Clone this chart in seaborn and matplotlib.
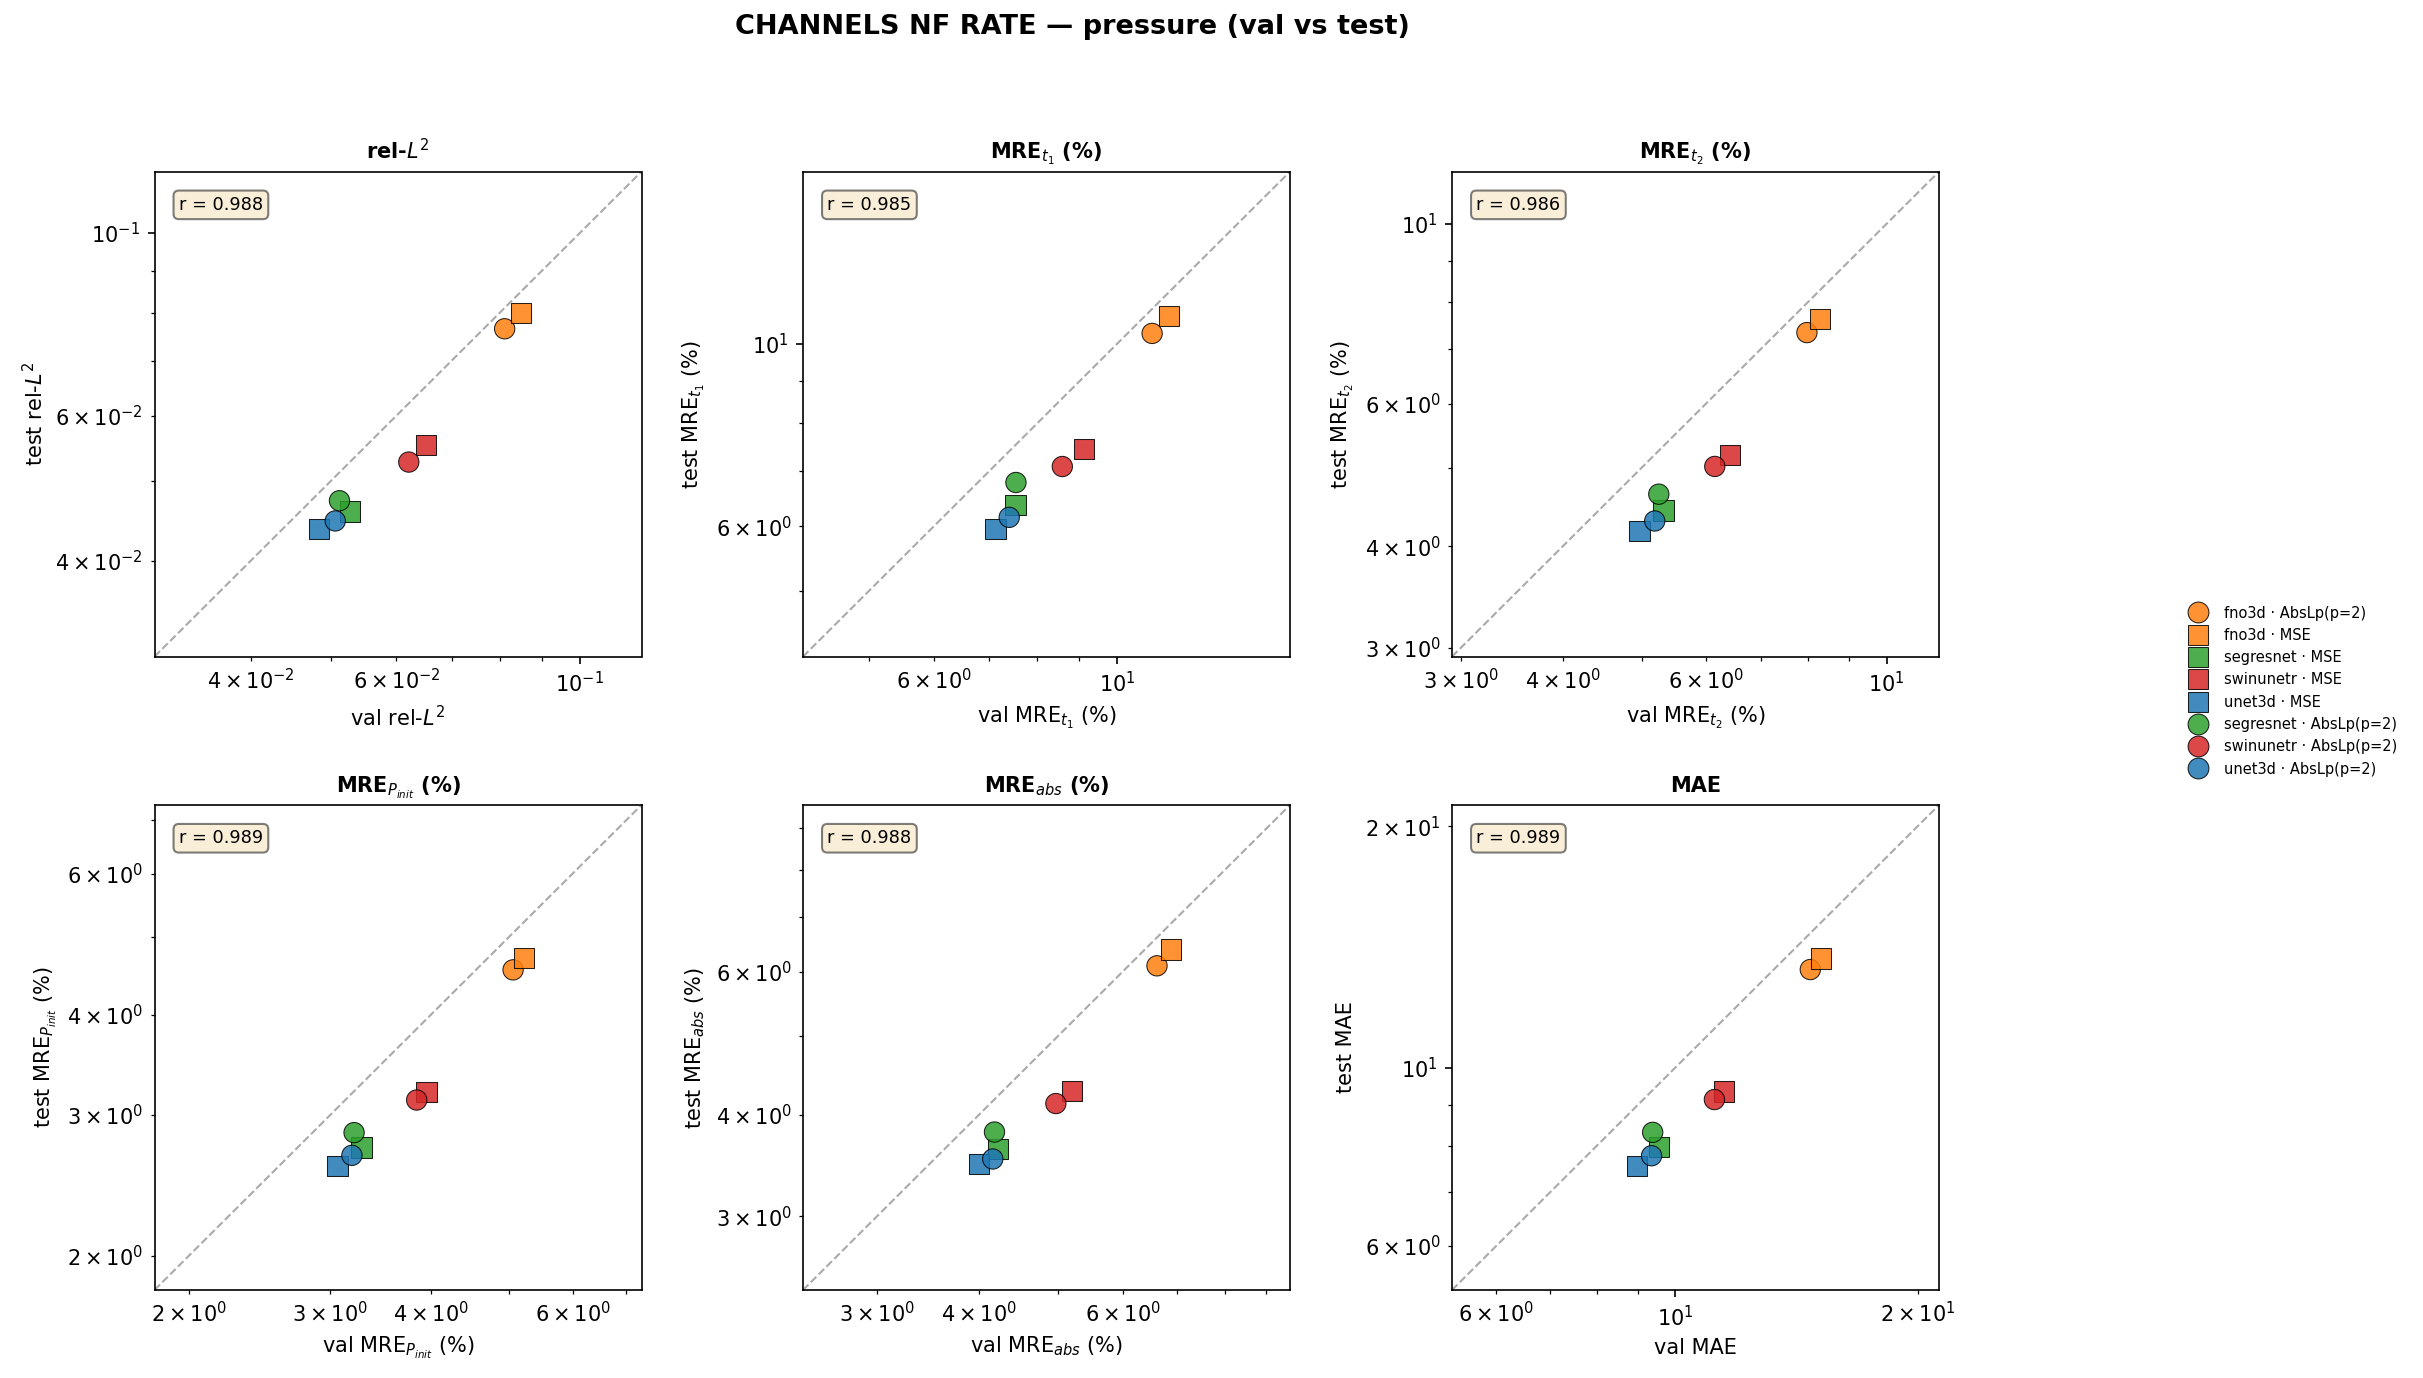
import numpy as np
import pandas as pd
import matplotlib
matplotlib.use("Agg")
import matplotlib.pyplot as plt
from matplotlib.lines import Line2D
import seaborn as sns

# ---------------- data ----------------
models = ["fno3d", "fno3d", "segresnet", "swinunetr", "unet3d", "segresnet", "swinunetr", "unet3d"]
losses = ["AbsLp(p=2)", "MSE", "MSE", "MSE", "MSE", "AbsLp(p=2)", "AbsLp(p=2)", "AbsLp(p=2)"]

rel_l2_val = [0.0811, 0.0848, 0.0527, 0.0652, 0.0484, 0.0512, 0.0621, 0.0506]
rel_l2_test = [0.0765, 0.0800, 0.0459, 0.0553, 0.0437, 0.0473, 0.0527, 0.0447]
mre_t1_val = [11.02, 11.56, 7.53, 9.11, 7.12, 7.54, 8.58, 7.40]
mre_t1_test = [10.29, 10.81, 6.36, 7.45, 5.95, 6.78, 7.09, 6.15]
mre_t2_val = [7.98, 8.28, 5.32, 6.42, 4.97, 5.25, 6.15, 5.19]
mre_t2_test = [7.34, 7.63, 4.43, 5.19, 4.18, 4.64, 5.02, 4.30]
mre_pinit_val = [5.06, 5.22, 3.28, 3.95, 3.06, 3.21, 3.84, 3.19]
mre_pinit_test = [4.55, 4.71, 2.73, 3.20, 2.59, 2.85, 3.13, 2.67]
mre_abs_val = [6.61, 6.87, 4.22, 5.20, 4.00, 4.18, 4.97, 4.16]
mre_abs_test = [6.10, 6.39, 3.63, 4.28, 3.48, 3.81, 4.13, 3.53]
mae_val = [14.72, 15.19, 9.56, 11.51, 8.96, 9.38, 11.19, 9.35]
mae_test = [13.26, 13.69, 7.96, 9.34, 7.55, 8.31, 9.13, 7.77]

r_values = [0.988, 0.985, 0.986, 0.989, 0.988, 0.989]

titles = [r"rel-$L^2$", r"MRE$_{t_1}$ (%)", r"MRE$_{t_2}$ (%)",
          r"MRE$_{P_{init}}$ (%)", r"MRE$_{abs}$ (%)", "MAE"]
val_series = [rel_l2_val, mre_t1_val, mre_t2_val, mre_pinit_val, mre_abs_val, mae_val]
test_series = [rel_l2_test, mre_t1_test, mre_t2_test, mre_pinit_test, mre_abs_test, mae_test]

model_colors = {"fno3d": "#ff7f0e", "segresnet": "#2ca02c",
                "swinunetr": "#d62728", "unet3d": "#1f77b4"}
loss_markers = {"AbsLp(p=2)": "o", "MSE": "s"}

labels = [f"{m} · {l}" for m, l in zip(models, losses)]
palette = {lab: model_colors[m] for lab, m in zip(labels, models)}
markers = {lab: loss_markers[l] for lab, l in zip(labels, losses)}

# ---------------- figure ----------------
W, H = 2423, 1378
dpi = 150
fig = plt.figure(figsize=(W / dpi, H / dpi), dpi=dpi)

ax_w, ax_h = 487 / W, 485 / H
lefts = [154.5 / W, 803 / W, 1452 / W]
bottoms = [1 - 656.6 / H, 1 - 1290 / H]

for i in range(6):
    row, col = divmod(i, 3)
    ax = fig.add_axes([lefts[col], bottoms[row], ax_w, ax_h])
    df = pd.DataFrame({"val": val_series[i], "test": test_series[i], "label": labels})
    allv = np.concatenate([df["val"].values, df["test"].values])
    lo, hi = allv.min() * 0.7, allv.max() * 1.4
    ax.plot([lo, hi], [lo, hi], ls="--", color="#aaaaaa", lw=1.0, zorder=1)
    sns.scatterplot(data=df, x="val", y="test", hue="label", style="label",
                    hue_order=labels, style_order=labels,
                    palette=palette, markers=markers, s=95,
                    edgecolor="black", linewidth=0.5, alpha=0.85,
                    legend=False, ax=ax, zorder=3)
    ax.set_xscale("log")
    ax.set_yscale("log")
    ax.set_xlim(lo, hi)
    ax.set_ylim(lo, hi)
    ax.set_title(titles[i], fontsize=10, fontweight="bold")
    if i == 5:
        ax.set_xlabel("val MAE", fontsize=10)
        ax.set_ylabel("test MAE", fontsize=10)
    else:
        ax.set_xlabel("val " + titles[i], fontsize=10)
        ax.set_ylabel("test " + titles[i], fontsize=10)
    ax.tick_params(labelsize=10)
    ax.text(0.05, 0.95, f"r = {r_values[i]:.3f}", transform=ax.transAxes,
            fontsize=8.5, va="top", ha="left",
            bbox=dict(boxstyle="round", facecolor="wheat", alpha=0.5))

handles = [Line2D([0], [0], marker=markers[lab], color="none",
                  markerfacecolor=palette[lab], markeredgecolor="black",
                  markeredgewidth=0.5, alpha=0.85, markersize=10, label=lab)
           for lab in labels]
fig.legend(handles=handles, loc="center left", bbox_to_anchor=(0.8955, 0.4985),
           frameon=False, fontsize=7)

fig.suptitle("CHANNELS NF RATE — pressure (val vs test)", x=0.4425, y=0.99,
             va="top", fontsize=13, fontweight="bold")

fig.savefig("out.png", dpi=dpi)
